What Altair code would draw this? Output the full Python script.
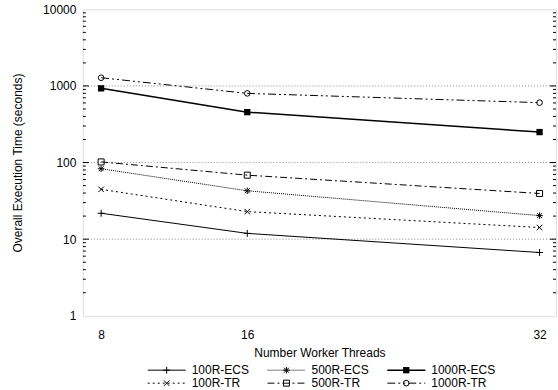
import altair as alt
import pandas as pd

# ---- data ----
threads = [8, 16, 32]
series_names = ["100R-ECS", "500R-ECS", "1000R-ECS", "100R-TR", "500R-TR", "1000R-TR"]
r100_ecs = [21.8, 11.9, 6.7]
r500_ecs = [83.0, 42.8, 20.3]
r1000_ecs = [930.0, 455.0, 250.0]
r100_tr = [44.7, 22.9, 14.2]
r500_tr = [102.0, 68.5, 39.5]
r1000_tr = [1280.0, 800.0, 605.0]
series_values = [r100_ecs, r500_ecs, r1000_ecs, r100_tr, r500_tr, r1000_tr]

y_tick_values = [1, 10, 100, 1000, 10000]
grid_values = [10, 100, 1000]
minor_tick_values = [m * d for d in [1, 10, 100, 1000] for m in [2, 3, 4, 5, 6, 7, 8, 9]]
legend_cols = [0, 1, 2, 0, 1, 2]
legend_rows = [0, 0, 0, 1, 1, 1]

FONT = "Liberation Sans"
PLUS = "M-1,0L1,0M0,-1L0,1"
STAR = "M-1,0L1,0M0,-1L0,1M-0.75,-0.75L0.75,0.75M-0.75,0.75L0.75,-0.75"
CROSS = "M-1,-1L1,1M-1,1L1,-1"

styles = {
    "100R-ECS": dict(dash=None, width=1.0, shape=PLUS, filled=False, size=49),
    "500R-ECS": dict(dash=[1, 1], width=1.0, shape=STAR, filled=False, size=42),
    "1000R-ECS": dict(dash=None, width=1.5, shape="square", filled=True, size=40),
    "100R-TR": dict(dash=[2, 3], width=1.0, shape=CROSS, filled=False, size=30),
    "500R-TR": dict(dash=[7, 3, 2, 3], width=1.0, shape="square", filled=False, size=36),
    "1000R-TR": dict(dash=[8, 3, 2, 3, 2, 3], width=1.0, shape="circle", filled=False, size=32),
}

rows = []
for name, vals in zip(series_names, series_values):
    for t, v in zip(threads, vals):
        rows.append({"series": name, "threads": t, "time": v})
df = pd.DataFrame(rows)

W, H = 474, 307
axis_font = dict(labelFont=FONT, titleFont=FONT, labelFontSize=12, titleFontSize=12,
                 titleFontWeight="normal", labelColor="black", titleColor="black")
xscale = alt.Scale(domain=[7, 32.9], nice=False, zero=False)
yscale = alt.Scale(type="log", domain=[1, 10000], nice=False)
xaxis = alt.Axis(values=threads, ticks=False, tickSize=0, domain=False, grid=False,
                 labelPadding=14, title="Number Worker Threads", titlePadding=7, **axis_font)
yaxis = alt.Axis(values=y_tick_values, format="d", ticks=False, tickSize=0, domain=False,
                 grid=False, labelPadding=7, title="Overall Execution Time (seconds)",
                 titlePadding=18, **axis_font)

X = alt.X("threads:Q", scale=xscale, axis=xaxis)
Y = alt.Y("time:Q", scale=yscale, axis=yaxis)

layers = []
# grid lines
grid_df = pd.DataFrame({"time": grid_values})
layers.append(alt.Chart(grid_df).mark_rule(color="#8a8a8a", strokeDash=[1, 2], strokeWidth=1)
              .encode(y=Y))
# minor / major ticks on both sides (inward)
minor_df = pd.DataFrame({"time": minor_tick_values})
major_df = pd.DataFrame({"time": grid_values})
for d, ln in [(minor_df, 3), (major_df, 6)]:
    layers.append(alt.Chart(d).mark_rule(color="black", strokeWidth=1)
                  .encode(y=Y, x=alt.value(0), x2=alt.value(ln)))
    layers.append(alt.Chart(d).mark_rule(color="black", strokeWidth=1)
                  .encode(y=Y, x=alt.value(W - ln), x2=alt.value(W)))

for name in series_names:
    st = styles[name]
    line_kw = dict(color="black", strokeWidth=st["width"])
    if st["dash"]:
        line_kw["strokeDash"] = st["dash"]
    base = alt.Chart(df).transform_filter(alt.datum.series == name).encode(x=X, y=Y)
    layers.append(base.mark_line(**line_kw))
    layers.append(base.mark_point(shape=st["shape"], filled=st["filled"], size=st["size"],
                                  color="black", strokeWidth=1, opacity=1))

main = alt.layer(*layers).properties(width=W, height=H)

# ---- legend panel (gnuplot style key) ----
leg_df = pd.DataFrame({"series": series_names, "col": legend_cols, "row": legend_rows})
LW = W
lx = alt.Scale(domain=[-0.5417, 3.4083], nice=False, zero=False)
ly = alt.Scale(domain=[-0.5, 1.5], reverse=True, nice=False, zero=False)
leg_base = alt.Chart(leg_df).transform_calculate(
    x0="datum.col", x1="datum.col + 0.317", xm="datum.col + 0.158", xt="datum.col + 0.367"
)
leg_layers = []
for name in series_names:
    st = styles[name]
    rule_kw = dict(color="black", strokeWidth=st["width"])
    if st["dash"]:
        rule_kw["strokeDash"] = st["dash"]
    b = leg_base.transform_filter(alt.datum.series == name)
    leg_layers.append(b.mark_rule(**rule_kw).encode(
        x=alt.X("x0:Q", scale=lx, axis=None), x2="x1:Q",
        y=alt.Y("row:Q", scale=ly, axis=None)))
    leg_layers.append(b.mark_point(shape=st["shape"], filled=st["filled"], size=st["size"],
                                   color="black", strokeWidth=1, opacity=1).encode(
        x=alt.X("xm:Q", scale=lx, axis=None), y=alt.Y("row:Q", scale=ly, axis=None)))
leg_layers.append(leg_base.mark_text(align="left", baseline="middle", fontSize=12, font=FONT,
                                     color="black").encode(
    x=alt.X("xt:Q", scale=lx, axis=None), y=alt.Y("row:Q", scale=ly, axis=None),
    text="series:N"))
legend = alt.layer(*leg_layers).properties(
    width=LW, height=26, view=alt.ViewBackground(stroke="transparent"))

chart = alt.vconcat(main, legend, spacing=3).properties(
    padding={"left": 11, "top": 2, "right": 1, "bottom": 0}
).configure_view(stroke="black", strokeWidth=1).configure(background="white")

chart.save("out.html", embed_options={"renderer": "svg", "actions": False})
